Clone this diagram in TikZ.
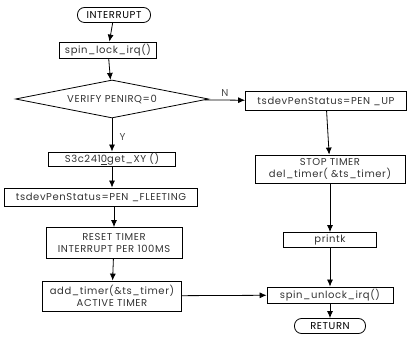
\documentclass[tikz,border=0pt]{standalone}
\usepackage{fontspec}
\setmainfont{Poppins}[LetterSpace=6]
\usetikzlibrary{shapes.geometric,arrows.meta}

\begin{document}
\begin{tikzpicture}[x=1pt, y=-1pt, thick, >={Latex[length=7pt,width=6pt]}, font=\fontsize{10}{11.5}\selectfont,
  proc node/.style={rectangle,draw,text=black!80,inner sep=1pt,minimum height=16pt,align=center},
  end node/.style={rectangle,draw,rounded corners=7pt,minimum height=15pt,inner sep=2pt},
  test node/.style={diamond,draw,text=black!80,aspect=5,inner sep=0pt,minimum width=193pt,minimum height=38pt}]%
\useasboundingbox (0,0) rectangle (410,344);
\begin{scope}
% left column
\node[end node,minimum width=73pt] (irq) at (114,15) {INTERRUPT};
\node[proc node,minimum width=97pt] (lock) at (108,50) {spin\_lock\_irq()};
\node[test node] (penirq) at (112,99) {VERIFY PENIRQ=0};
\node[proc node,minimum width=127pt,minimum height=14pt] (getxy) at (112,159) {S3c241\underline{0}get\_XY ()};
\node[proc node,minimum width=193pt,minimum height=18pt] (fleet) at (101,197) {tsdevPenStatus=PEN \_FLEETING};
\node[proc node,minimum width=136pt,minimum height=31pt] (reset) at (114,243) {RESET TIMER\\INTERRUPT PER 100MS};
\node[proc node,minimum width=139pt,minimum height=30pt] (add) at (112,296) {add\_timer(\&ts\_timer)\\ACTIVE TIMER};
% right column
\node[proc node,minimum width=161pt,minimum height=19pt] (penup) at (326,101) {tsdevPenStatus=PEN \_UP};
\node[proc node,minimum width=150pt,minimum height=28pt] (stop) at (330,169) {STOP TIMER\\del\_timer( \&ts\_timer)};
\node[proc node,minimum width=93pt,minimum height=15pt] (printk) at (330,240) {printk};
\node[proc node,minimum width=126pt] (unlock) at (330,295) {spin\_unlock\_irq()};
\node[end node,minimum width=71pt] (ret) at (330,326) {RETURN};
\end{scope}
\begin{scope}[every edge/.style={draw=black,thick,->}]
\draw (irq) edge (lock);
\draw (lock) edge (penirq);
\draw (penirq) edge node[above,pos=0.5,text=black!70]{N} (penup);
\draw (penirq) edge node[right,pos=0.55,xshift=4pt,text=black!70]{Y} (getxy);
\draw (getxy) edge (fleet.north -| getxy);
\draw (fleet.south -| reset) edge (reset);
\draw (reset) edge (add);
\draw (add) edge (unlock);
\draw (penup) edge (stop);
\draw (stop) edge (printk);
\draw (printk) edge (unlock);
\draw (unlock) edge (ret);
\end{scope}
\end{tikzpicture}
\end{document}
